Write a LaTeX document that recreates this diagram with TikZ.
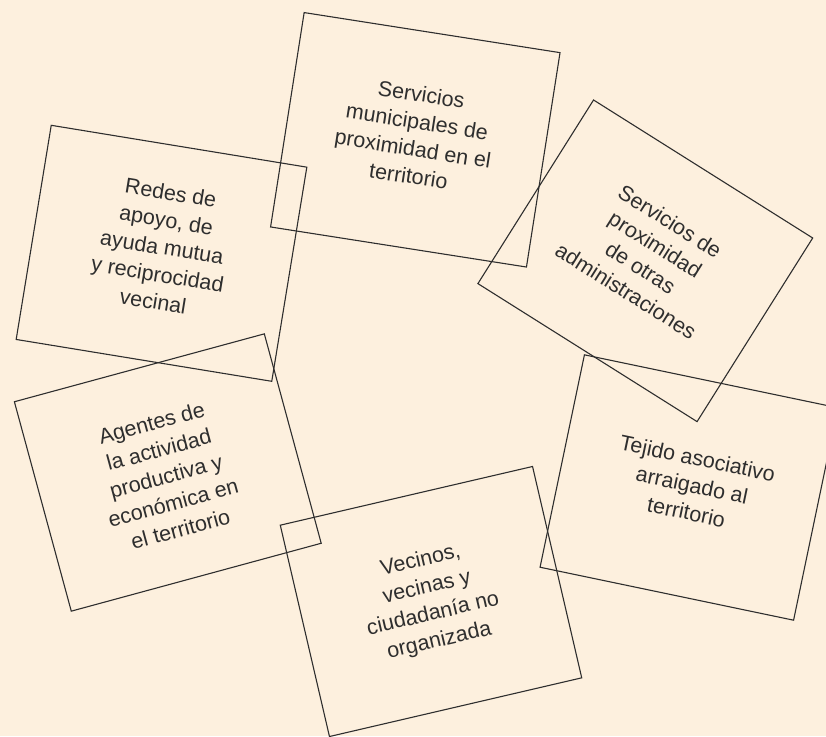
\documentclass[tikz,border=0pt]{standalone}
\usepackage{fontspec}
\setmainfont{Liberation Sans}
\definecolor{bg}{HTML}{FDF0DE}
\definecolor{ink}{HTML}{2E2E2E}
\begin{document}
\begin{tikzpicture}[x=1pt,y=1pt,
  card/.style={draw=ink, line width=1.1pt, minimum width=259pt, minimum height=217pt, inner sep=0pt},
  label/.style={text=ink, align=center, inner sep=0pt, font=\fontsize{21.5}{27.5}\selectfont}]
\fill[bg] (0,0) rectangle (826,-736);
\useasboundingbox (0,0) rectangle (826,-736);
% boxes
\node[card, rotate=-8.9]  (b1) at (415.3,-139.8) {};
\node[card, rotate=-9.3]  (b2) at (161.5,-253.3) {};
\node[card, rotate=-32.2] (b3) at (645.3,-260.8) {};
\node[card, rotate=15.2]  (b4) at (167.8,-472.5) {};
\node[card, rotate=-11.8] (b5) at (689,-487.5) {};
\node[card, rotate=13.1]  (b6) at (431,-601.5) {};
% texts
\node[label, rotate=-8.9]  (t1) at (415,-135) {Servicios\\municipales de\\proximidad en el\\territorio};
\node[label, rotate=-9.3]  (t2) at (162,-247) {Redes de\\apoyo, de\\ayuda mutua\\y reciprocidad\\vecinal};
\node[label, rotate=-32.2] (t3) at (648,-256) {Servicios de\\proximidad\\de otras\\administraciones};
\node[label, rotate=15.2]  (t4) at (166,-476) {Agentes de\\la actividad\\productiva y\\económica en\\el territorio};
\node[label, rotate=-11.8] (t5) at (692,-485) {Tejido asociativo\\arraigado al\\territorio};
\node[label, rotate=13.1]  (t6) at (430,-601) {Vecinos,\\vecinas y\\ciudadanía no\\organizada};
\end{tikzpicture}
\end{document}
